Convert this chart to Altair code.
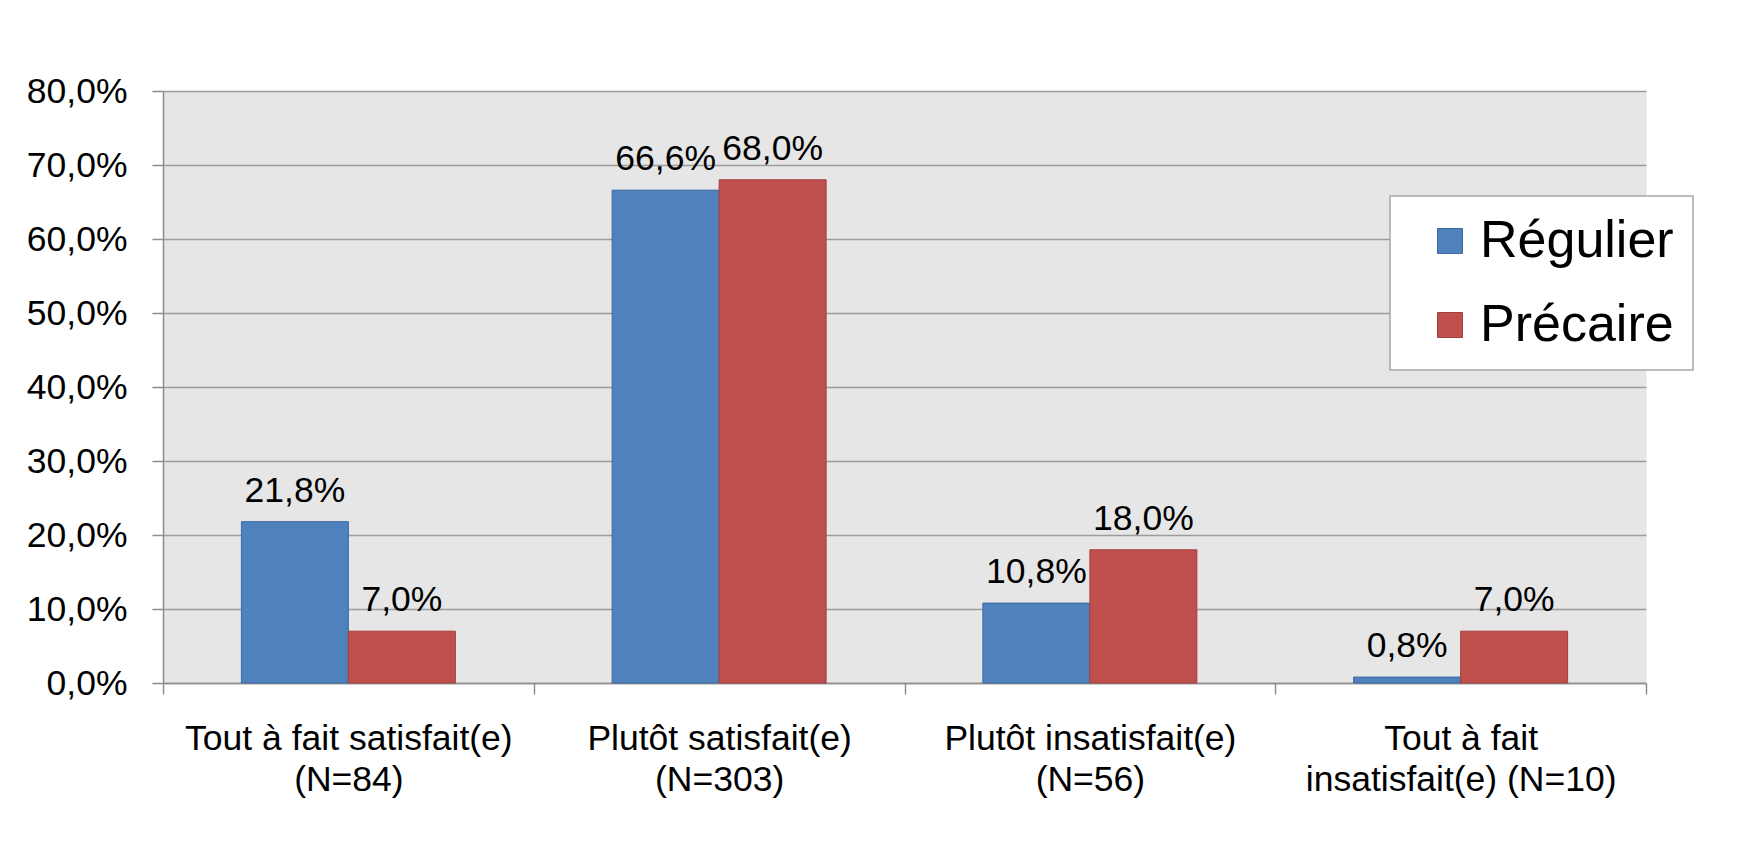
import altair as alt
import pandas as pd

categories = [
    "Tout à fait satisfait(e)|(N=84)",
    "Plutôt satisfait(e)|(N=303)",
    "Plutôt insatisfait(e)|(N=56)",
    "Tout à fait|insatisfait(e) (N=10)",
]
series = ["Régulier", "Précaire"]
regulier = [21.8, 66.6, 10.8, 0.8]
precaire = [7.0, 68.0, 18.0, 7.0]
y_ticks = [0, 10, 20, 30, 40, 50, 60, 70, 80]
fill_colors = ["#4f81bd", "#c0504d"]
stroke_colors = ["#3b6aa3", "#a13f3c"]

rows = []
for c, r, p in zip(categories, regulier, precaire):
    rows.append({"cat": c, "serie": series[0], "val": r})
    rows.append({"cat": c, "serie": series[1], "val": p})
df = pd.DataFrame(rows)

FONT = "Liberation Sans"
FS = 35.5
GRID = "#9c9c9c"
AXIS = "#8c8c8c"

x_enc = alt.X(
    "cat:N",
    sort=categories,
    scale=alt.Scale(paddingInner=0, paddingOuter=0),
    axis=alt.Axis(
        title=None,
        labelAngle=0,
        labelExpr="split(datum.label, '|')",
        labelFontSize=FS,
        labelFont=FONT,
        labelColor="black",
        labelLineHeight=41,
        labelBaseline="top",
        labelPadding=27,
        labelLimit=0,
        labelOverlap=False,
        tickSize=11,
        tickBand="extent",
        tickColor=AXIS,
        tickWidth=1.5,
        domainColor=AXIS,
        domainWidth=1.5,
        grid=False,
    ),
)
y_enc = alt.Y(
    "val:Q",
    scale=alt.Scale(domain=[0, 80], nice=False),
    axis=alt.Axis(
        title=None,
        values=y_ticks,
        labelExpr="replace(format(datum.value, '.1f'), '.', ',') + '%'",
        labelFontSize=FS,
        labelFont=FONT,
        labelColor="black",
        labelPadding=25,
        tickSize=11,
        tickColor=AXIS,
        tickWidth=1.5,
        domainColor=AXIS,
        domainWidth=1.5,
        gridColor=GRID,
        gridWidth=1.5,
        minExtent=147,
        maxExtent=147,
    ),
)
xoff_enc = alt.XOffset(
    "serie:N",
    sort=series,
    scale=alt.Scale(domain=series, paddingOuter=0.7325, paddingInner=0),
)

bars = alt.Chart(df).mark_bar(strokeWidth=1).encode(
    x=x_enc,
    y=y_enc,
    xOffset=xoff_enc,
    fill=alt.Fill(
        "serie:N",
        sort=series,
        scale=alt.Scale(domain=series, range=fill_colors),
        legend=alt.Legend(title=None),
    ),
    stroke=alt.Stroke(
        "serie:N",
        sort=series,
        scale=alt.Scale(domain=series, range=stroke_colors),
        legend=alt.Legend(title=None),
    ),
)

labels = (
    alt.Chart(df)
    .transform_calculate(lab="replace(format(datum.val, '.1f'), '.', ',') + '%'")
    .mark_text(baseline="alphabetic", dy=-20, fontSize=FS, font=FONT, color="black")
    .encode(x=x_enc, y=y_enc, xOffset=xoff_enc, text="lab:N")
)

chart = (
    alt.layer(bars, labels)
    .properties(
        width=1483,
        height=592,
        padding={"left": 155, "top": 83, "right": 88, "bottom": 151},
        autosize=alt.AutoSizeParams(type="none"),
        background="white",
    )
    .configure_view(fill="#e6e6e6", stroke="transparent")
    .configure_legend(
        orient="none",
        legendX=1227,
        legendY=105,
        fillColor="white",
        strokeColor="#a6a6a6",
        strokeWidth=1.5,
        padding=19,
        symbolType="square",
        symbolSize=625,
        symbolStrokeWidth=1,
        symbolOffset=15,
        labelFont=FONT,
        labelFontSize=52,
        labelColor="black",
        labelOffset=4,
        labelLimit=0,
        rowPadding=32,
    )
)

chart.save("out.html", embed_options={"renderer": "svg", "actions": False})
